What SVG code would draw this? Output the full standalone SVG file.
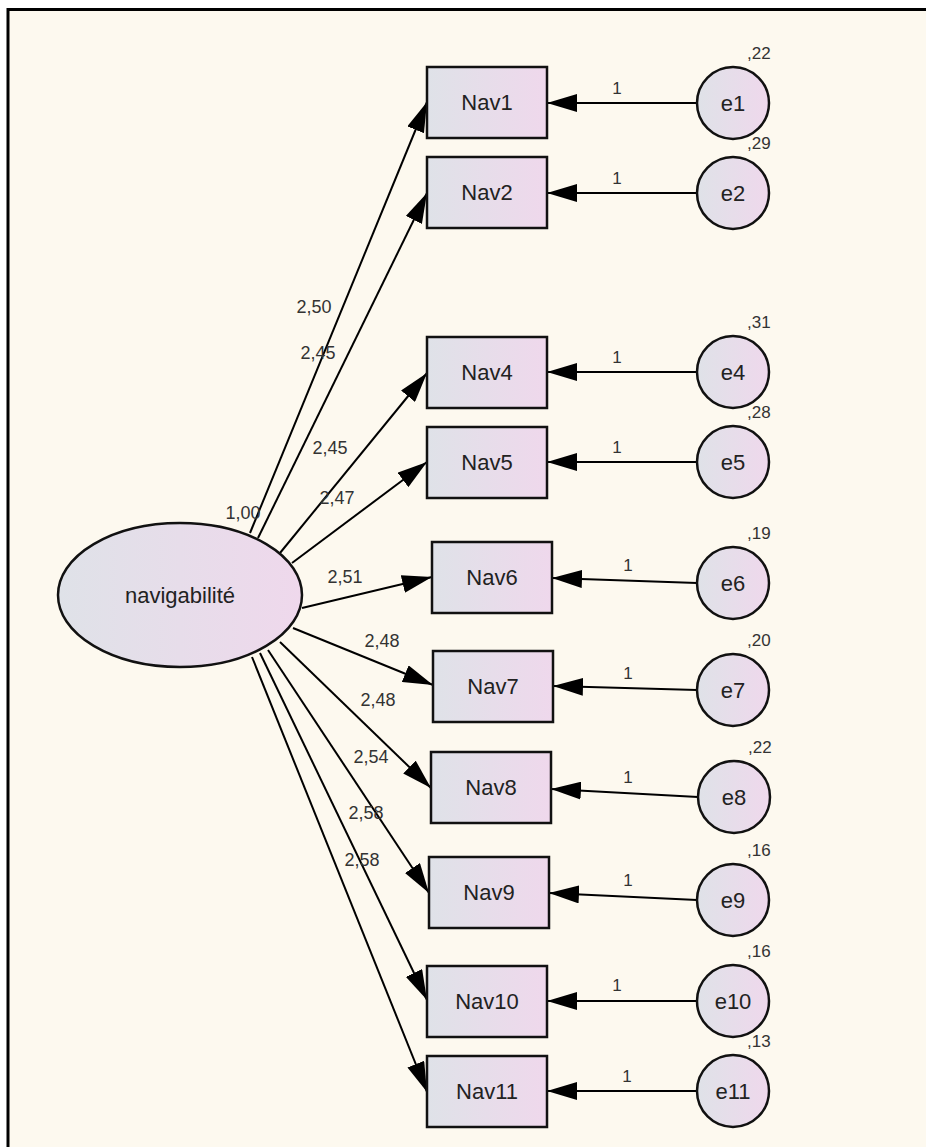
<svg xmlns="http://www.w3.org/2000/svg" width="926" height="1147" viewBox="0 0 926 1147">
<defs>
<linearGradient id="fillg" x1="0" y1="0" x2="1" y2="0">
<stop offset="0" stop-color="#dfe2e8"/>
<stop offset="1" stop-color="#efd8ec"/>
</linearGradient>
<marker id="ah" markerUnits="userSpaceOnUse" markerWidth="30" markerHeight="18" refX="30" refY="9" orient="auto">
<path d="M0,0 L30,9 L0,18 Z" fill="#000"/>
</marker>
<style>
.box{fill:url(#fillg);stroke:#111;stroke-width:2.5}
.nt{font-family:"Liberation Sans",Arial,sans-serif;font-size:22px;fill:#222;text-anchor:middle}
.lb{font-family:"Liberation Sans",Arial,sans-serif;font-size:18px;fill:#333;text-anchor:middle}
.sm{font-family:"Liberation Sans",Arial,sans-serif;font-size:17px;fill:#333}
.cn{stroke:#000;stroke-width:2;fill:none;marker-end:url(#ah)}
</style>
</defs>
<rect x="0" y="0" width="926" height="1147" fill="#ffffff"/>
<rect x="8" y="9.5" width="930" height="1150" fill="#fdf9ef"/>
<path d="M8,1147 V9.5 H926" fill="none" stroke="#000" stroke-width="3"/>

<g id="connectors">
<line class="cn" x1="250" y1="533" x2="427" y2="102"/>
<line class="cn" x1="258" y1="538" x2="427" y2="193"/>
<line class="cn" x1="280" y1="553" x2="427" y2="373"/>
<line class="cn" x1="292" y1="563" x2="427" y2="462"/>
<line class="cn" x1="302" y1="608" x2="432" y2="577"/>
<line class="cn" x1="293" y1="628" x2="433" y2="685"/>
<line class="cn" x1="280" y1="642" x2="431" y2="788"/>
<line class="cn" x1="268" y1="650" x2="429" y2="893"/>
<line class="cn" x1="260" y1="653" x2="427" y2="1000"/>
<line class="cn" x1="252" y1="657" x2="427" y2="1092"/>

<line class="cn" x1="697" y1="103" x2="547" y2="103"/>
<line class="cn" x1="697" y1="193" x2="547" y2="193"/>
<line class="cn" x1="697" y1="372" x2="547" y2="372"/>
<line class="cn" x1="697" y1="462" x2="547" y2="462"/>
<line class="cn" x1="697" y1="583" x2="552" y2="578"/>
<line class="cn" x1="697" y1="690" x2="553" y2="686"/>
<line class="cn" x1="698" y1="797" x2="551" y2="789"/>
<line class="cn" x1="697" y1="900" x2="549" y2="893"/>
<line class="cn" x1="697" y1="1001" x2="547" y2="1001"/>
<line class="cn" x1="697" y1="1091" x2="547" y2="1091"/>

<text class="lb" x="243" y="519">1,00</text>
<text class="lb" x="314" y="313">2,50</text>
<text class="lb" x="318" y="359">2,45</text>
<text class="lb" x="330" y="454">2,45</text>
<text class="lb" x="337" y="504">2,47</text>
<text class="lb" x="345" y="583">2,51</text>
<text class="lb" x="382" y="647">2,48</text>
<text class="lb" x="378" y="706">2,48</text>
<text class="lb" x="371" y="763">2,54</text>
<text class="lb" x="366" y="819">2,58</text>
<text class="lb" x="362" y="866">2,58</text>

<text class="sm" x="617" y="94" text-anchor="middle">1</text>
<text class="sm" x="617" y="184" text-anchor="middle">1</text>
<text class="sm" x="617" y="363" text-anchor="middle">1</text>
<text class="sm" x="617" y="453" text-anchor="middle">1</text>
<text class="sm" x="628" y="571" text-anchor="middle">1</text>
<text class="sm" x="628" y="679" text-anchor="middle">1</text>
<text class="sm" x="628" y="783" text-anchor="middle">1</text>
<text class="sm" x="628" y="886" text-anchor="middle">1</text>
<text class="sm" x="617" y="991" text-anchor="middle">1</text>
<text class="sm" x="627" y="1082" text-anchor="middle">1</text>
</g>

<g id="navigabilite">
<ellipse class="box" cx="180" cy="595" rx="122" ry="72"/>
<text class="nt" x="180" y="603">navigabilité</text>
</g>

<g id="Nav1"><rect class="box" x="427" y="67" width="120" height="71"/><text class="nt" x="487" y="110">Nav1</text></g>
<g id="Nav2"><rect class="box" x="427" y="157" width="120" height="71"/><text class="nt" x="487" y="200">Nav2</text></g>
<g id="Nav4"><rect class="box" x="427" y="337" width="120" height="71"/><text class="nt" x="487" y="380">Nav4</text></g>
<g id="Nav5"><rect class="box" x="427" y="427" width="120" height="71"/><text class="nt" x="487" y="470">Nav5</text></g>
<g id="Nav6"><rect class="box" x="432" y="542" width="120" height="71"/><text class="nt" x="492" y="585">Nav6</text></g>
<g id="Nav7"><rect class="box" x="433" y="651" width="120" height="71"/><text class="nt" x="493" y="694">Nav7</text></g>
<g id="Nav8"><rect class="box" x="431" y="752" width="120" height="71"/><text class="nt" x="491" y="795">Nav8</text></g>
<g id="Nav9"><rect class="box" x="429" y="857" width="120" height="71"/><text class="nt" x="489" y="900">Nav9</text></g>
<g id="Nav10"><rect class="box" x="427" y="966" width="120" height="71"/><text class="nt" x="487" y="1009">Nav10</text></g>
<g id="Nav11"><rect class="box" x="427" y="1056" width="120" height="71"/><text class="nt" x="487" y="1099">Nav11</text></g>

<g id="e1"><circle class="box" cx="733" cy="103" r="36"/><text class="nt" x="733" y="111">e1</text><text class="sm" x="747" y="59">,22</text></g>
<g id="e2"><circle class="box" cx="733" cy="193" r="36"/><text class="nt" x="733" y="201">e2</text><text class="sm" x="747" y="149">,29</text></g>
<g id="e4"><circle class="box" cx="733" cy="372" r="36"/><text class="nt" x="733" y="380">e4</text><text class="sm" x="747" y="328">,31</text></g>
<g id="e5"><circle class="box" cx="733" cy="462" r="36"/><text class="nt" x="733" y="470">e5</text><text class="sm" x="747" y="418">,28</text></g>
<g id="e6"><circle class="box" cx="733" cy="583" r="36"/><text class="nt" x="733" y="591">e6</text><text class="sm" x="747" y="539">,19</text></g>
<g id="e7"><circle class="box" cx="733" cy="690" r="36"/><text class="nt" x="733" y="698">e7</text><text class="sm" x="747" y="646">,20</text></g>
<g id="e8"><circle class="box" cx="734" cy="797" r="36"/><text class="nt" x="734" y="805">e8</text><text class="sm" x="748" y="753">,22</text></g>
<g id="e9"><circle class="box" cx="733" cy="900" r="36"/><text class="nt" x="733" y="908">e9</text><text class="sm" x="747" y="856">,16</text></g>
<g id="e10"><circle class="box" cx="733" cy="1001" r="36"/><text class="nt" x="733" y="1009">e10</text><text class="sm" x="747" y="957">,16</text></g>
<g id="e11"><circle class="box" cx="733" cy="1091" r="36"/><text class="nt" x="733" y="1099">e11</text><text class="sm" x="747" y="1047">,13</text></g>
</svg>
